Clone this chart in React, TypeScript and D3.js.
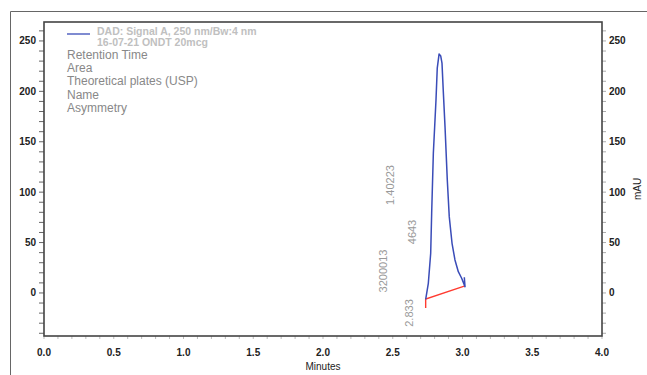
import * as d3 from 'd3';
import { useEffect, useRef } from 'react';

const W = 647;
const H = 375;

// trace (minutes, mAU)
const traceTime = [2.736, 2.755, 2.772, 2.779, 2.791, 2.81, 2.819, 2.832, 2.844, 2.853, 2.862, 2.875, 2.891, 2.905, 2.925, 2.946, 2.97, 2.994, 3.018, 3.013];
const traceSignal = [-6.3, 9.6, 39.4, 79, 138.6, 191.5, 223, 237, 235, 228, 201, 164, 112, 75.7, 49.3, 32.7, 21.1, 14.6, 6.3, 15.6];

// integration baseline
const baseTime = [2.736, 3.018];
const baseSignal = [-6, 7];
const baseDrop = -15;

const xTicks = [0, 0.5, 1, 1.5, 2, 2.5, 3, 3.5, 4];
const yTicks = [0, 50, 100, 150, 200, 250];

const legendTitle = ['DAD: Signal A, 250 nm/Bw:4 nm', '16-07-21 ONDT 20mcg'];
const legendFields = ['Retention Time', 'Area', 'Theoretical plates (USP)', 'Name', 'Asymmetry'];

const peakTime = 2.833;
const peakLabels = ['2.833', '3200013', '4643', '1.40223'];
// label placement: [dx from apex px, centre y px]
const peakLabelPos: [number, number][] = [[-26, 313], [-52, 271], [-23, 232], [-45, 185]];

export default function App() {
  const ref = useRef<SVGSVGElement>(null);

  useEffect(() => {
    if (!ref.current) return;
    const svg = d3.select(ref.current);
    svg.selectAll('*').remove();

    const m = { left: 44, right: 602, top: 22, bottom: 336 };
    const x = d3.scaleLinear().domain([0, 4]).range([m.left, m.right]);
    const y = d3.scaleLinear().domain([-42.7, 268.8]).range([m.bottom, m.top]);
    const font = 'Liberation Sans, Arial, sans-serif';

    // outer frame
    svg.append('path')
      .attr('d', `M10.5,${H} V11.5 H${W}`)
      .attr('fill', 'none')
      .attr('stroke', '#666')
      .attr('stroke-width', 1);

    // minor ticks
    const yMinor = d3.range(-40, 261, 10);
    const xMinor = d3.range(0, 4.001, 0.1);
    const g = svg.append('g');
    g.selectAll('line.yl').data(yMinor).join('line')
      .attr('x1', m.left - 5).attr('x2', m.left)
      .attr('y1', d => y(d)).attr('y2', d => y(d))
      .attr('stroke', '#666').attr('stroke-width', 1);
    g.selectAll('line.yr').data(yMinor).join('line')
      .attr('x1', m.right).attr('x2', m.right + 4)
      .attr('y1', d => y(d)).attr('y2', d => y(d))
      .attr('stroke', '#aaa').attr('stroke-width', 1);
    g.selectAll('line.xb').data(xMinor).join('line')
      .attr('x1', d => x(d)).attr('x2', d => x(d))
      .attr('y1', m.bottom).attr('y2', m.bottom + 3)
      .attr('stroke', '#bbb').attr('stroke-width', 1);

    // plot frame
    svg.append('rect')
      .attr('x', m.left).attr('y', m.top)
      .attr('width', m.right - m.left).attr('height', m.bottom - m.top)
      .attr('fill', 'none').attr('stroke', '#444').attr('stroke-width', 1.6);

    // tick labels
    svg.selectAll('text.yl').data(yTicks).join('text')
      .attr('x', 36).attr('y', d => y(d) + 3.5)
      .attr('text-anchor', 'end')
      .attr('font-family', font).attr('font-size', 10).attr('font-weight', 'bold')
      .attr('fill', '#222')
      .text(d => d);
    svg.selectAll('text.yr').data(yTicks).join('text')
      .attr('x', 609).attr('y', d => y(d) + 3.5)
      .attr('font-family', font).attr('font-size', 10).attr('font-weight', 'bold')
      .attr('fill', '#222')
      .text(d => d);
    svg.selectAll('text.xb').data(xTicks).join('text')
      .attr('x', d => x(d)).attr('y', 356)
      .attr('text-anchor', 'middle')
      .attr('font-family', font).attr('font-size', 10).attr('font-weight', 'bold')
      .attr('fill', '#222')
      .text(d => d.toFixed(1));

    svg.append('text')
      .attr('x', (m.left + m.right) / 2).attr('y', 370)
      .attr('text-anchor', 'middle')
      .attr('font-family', font).attr('font-size', 10)
      .attr('fill', '#222')
      .text('Minutes');
    svg.append('text')
      .attr('transform', `translate(641,${(m.top + m.bottom) / 2 + 10}) rotate(-90)`)
      .attr('text-anchor', 'middle')
      .attr('font-family', font).attr('font-size', 10)
      .attr('fill', '#222')
      .text('mAU');

    // legend
    svg.append('line')
      .attr('x1', 67).attr('x2', 90).attr('y1', 34).attr('y2', 34)
      .attr('stroke', '#3a4cb8').attr('stroke-width', 1.3);
    legendTitle.forEach((t, i) => {
      svg.append('text')
        .attr('x', 97).attr('y', 35 + i * 11)
        .attr('font-family', font).attr('font-size', 10.5).attr('font-weight', 'bold')
        .attr('fill', '#c0c0c0')
        .text(t);
    });
    legendFields.forEach((t, i) => {
      svg.append('text')
        .attr('x', 67).attr('y', 59 + i * 13.2)
        .attr('font-family', font).attr('font-size', 12)
        .attr('fill', '#888')
        .text(t);
    });

    // baseline
    svg.append('path')
      .attr('d', d3.line()([
        [x(baseTime[0]), y(baseDrop)],
        [x(baseTime[0]), y(baseSignal[0])],
        [x(baseTime[1]), y(baseSignal[1])],
      ]))
      .attr('fill', 'none').attr('stroke', '#ff3b30').attr('stroke-width', 1.4);

    // trace
    const line = d3.line<number>()
      .x((_, i) => x(traceTime[i]))
      .y(d => y(d));
    svg.append('path')
      .datum(traceSignal)
      .attr('d', line)
      .attr('fill', 'none').attr('stroke', '#3a4cb8').attr('stroke-width', 1.5)
      .attr('stroke-linejoin', 'round');

    // peak labels
    const apex = x(peakTime);
    peakLabels.forEach((t, i) => {
      const [dx, cy] = peakLabelPos[i];
      svg.append('text')
        .attr('transform', `translate(${apex + dx},${cy}) rotate(-90)`)
        .attr('text-anchor', 'middle')
        .attr('font-family', font).attr('font-size', 11)
        .attr('fill', '#999')
        .text(t);
    });
  }, []);

  return (
    <svg
      ref={ref}
      width={W}
      height={H}
      viewBox={`0 0 ${W} ${H}`}
      style={{ position: 'absolute', left: 0, top: 0, background: '#fff' }}
    />
  );
}
